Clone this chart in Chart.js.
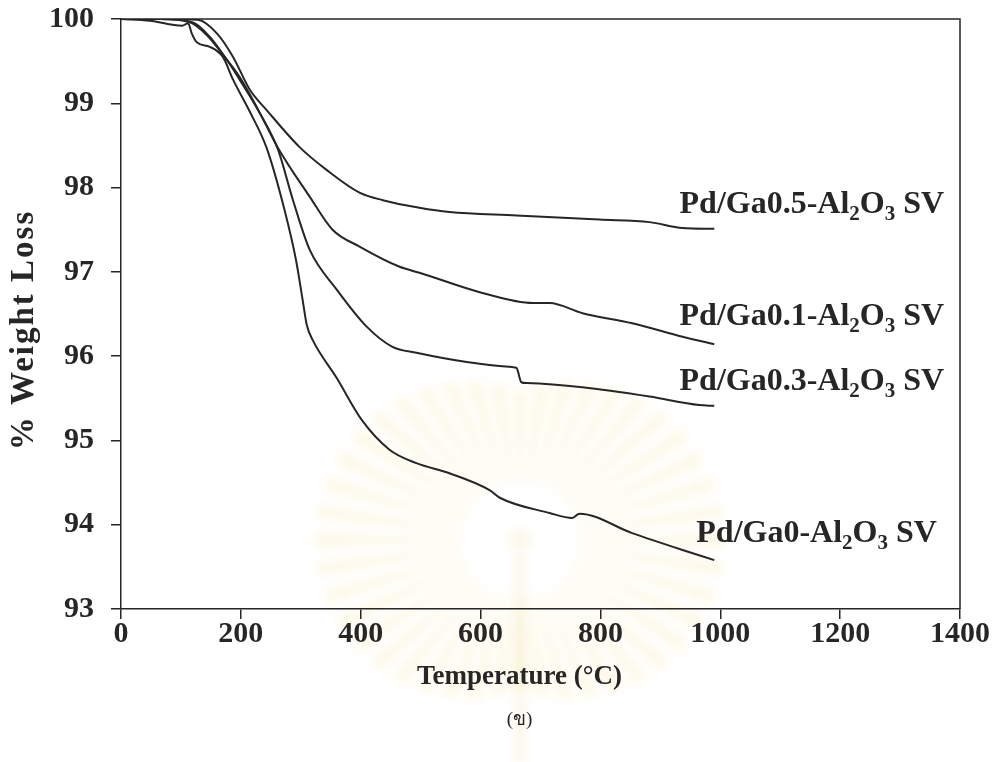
<!DOCTYPE html>
<html>
<head>
<meta charset="utf-8">
<title>TGA</title>
<script src="https://cdn.jsdelivr.net/npm/chart.js@4.4.1/dist/chart.umd.min.js"></script>
<style>
  html, body { margin: 0; padding: 0; background: #fff; }
  #wrap { width: 995px; height: 762px; position: relative; }
</style>
</head>
<body>
<div id="wrap"><canvas id="tga-chart"></canvas></div>
<script>
// Courbes ATG : température (°C) et masse restante (%)
const ga05Temp   = [0, 65, 128, 160, 187, 215, 243, 298, 343, 398, 437, 498, 548, 660, 798, 882, 937, 990];
const ga05Weight = [100, 100, 99.99, 99.83, 99.55, 99.16, 98.92, 98.48, 98.21, 97.94, 97.85, 97.76, 97.71, 97.67, 97.62, 97.59, 97.52, 97.51];

const ga01Temp   = [0, 65, 120, 148, 177, 198, 232, 262, 315, 353, 398, 465, 498, 603, 687, 715, 770, 853, 937, 990];
const ga01Weight = [100, 100, 99.96, 99.79, 99.51, 99.28, 98.88, 98.47, 97.89, 97.50, 97.30, 97.06, 96.99, 96.75, 96.63, 96.63, 96.51, 96.39, 96.23, 96.14];

const ga03Temp   = [0, 65, 115, 143, 173, 198, 232, 262, 287, 315, 360, 410, 453, 493, 577, 653, 660, 668, 677, 770, 882, 965, 990];
const ga03Weight = [100, 100, 99.96, 99.81, 99.55, 99.31, 98.88, 98.45, 97.85, 97.26, 96.79, 96.35, 96.11, 96.04, 95.93, 95.87, 95.86, 95.69, 95.68, 95.63, 95.52, 95.42, 95.41];

const ga0Temp   = [0, 48, 102, 112, 118, 127, 148, 170, 187, 215, 243, 273, 292, 303, 310, 320, 360, 402, 448, 493, 548, 615, 632, 715, 753, 765, 853, 937, 990];
const ga0Weight = [100, 99.98, 99.92, 99.95, 99.83, 99.72, 99.67, 99.55, 99.28, 98.90, 98.47, 97.73, 97.14, 96.67, 96.37, 96.19, 95.74, 95.24, 94.89, 94.73, 94.61, 94.41, 94.32, 94.14, 94.08, 94.13, 93.90, 93.70, 93.58];

// Noms des échantillons ("_" = indice)
const seriesNames = ['Pd/Ga0.5-Al_2O_3 SV', 'Pd/Ga0.1-Al_2O_3 SV', 'Pd/Ga0.3-Al_2O_3 SV', 'Pd/Ga0-Al_2O_3 SV'];

const xTickValues = [0, 200, 400, 600, 800, 1000, 1200, 1400];
const yTickValues = [93, 94, 95, 96, 97, 98, 99, 100];

const xTitle = 'Temperature (°C)';
const yTitle = '% Weight Loss';
const caption = '(ข)';

const INK = '#262626';
const SERIF = "'Liberation Serif', 'Times New Roman', serif";

function toPoints(temps, weights) {
  return temps.map((t, i) => ({ x: t, y: weights[i] }));
}

// Étiquettes placées au bout de chaque courbe (coordonnées en données)
const labelAnchors = [
  { t: 932, w: 97.70 },
  { t: 932, w: 96.37 },
  { t: 932, w: 95.60 },
  { t: 960, w: 93.80 }
];

// Filigrane pâle (soleil rayonnant) sous le graphique
const watermark = {
  id: 'watermark',
  beforeDraw(chart) {
    const { ctx } = chart;
    const cx = 520, cy = 540, rays = 44;
    ctx.save();
    ctx.filter = 'blur(4px)';
    ctx.fillStyle = 'rgba(246, 230, 170, 0.22)';
    for (let i = 0; i < rays; i++) {
      const ang = (i / rays) * Math.PI * 2;
      const c = Math.cos(ang), s = Math.sin(ang);
      const rOut = 150 + 55 * Math.abs(c);
      const r0 = 58;
      const w0 = 2, w1 = 9;
      ctx.beginPath();
      ctx.moveTo(cx + c * r0 - s * w0, cy + s * r0 + c * w0);
      ctx.lineTo(cx + c * rOut - s * w1, cy + s * rOut + c * w1);
      ctx.lineTo(cx + c * rOut + s * w1, cy + s * rOut - c * w1);
      ctx.lineTo(cx + c * r0 + s * w0, cy + s * r0 - c * w0);
      ctx.closePath();
      ctx.fill();
    }
    ctx.fillStyle = 'rgba(240, 222, 170, 0.22)';
    ctx.beginPath();
    ctx.arc(cx, cy, 12, 0, Math.PI * 2);
    ctx.fill();
    ctx.fillRect(cx - 7, cy + 14, 14, 762 - cy - 14);
    ctx.restore();
  }
};

const curveLabels = {
  id: 'curveLabels',
  afterDatasetsDraw(chart) {
    const { ctx, scales: { x, y } } = chart;
    ctx.save();
    ctx.fillStyle = INK;
    ctx.textBaseline = 'alphabetic';
    ctx.textAlign = 'left';
    seriesNames.forEach((name, i) => {
      let px = x.getPixelForValue(labelAnchors[i].t);
      const py = y.getPixelForValue(labelAnchors[i].w);
      name.split(/(_\d)/).forEach(part => {
        if (!part) return;
        if (part.startsWith('_')) {
          ctx.font = `bold 21px ${SERIF}`;
          ctx.fillText(part.slice(1), px, py + 7);
          px += ctx.measureText(part.slice(1)).width;
        } else {
          ctx.font = `bold 32px ${SERIF}`;
          ctx.fillText(part, px, py);
          px += ctx.measureText(part).width;
        }
      });
    });
    ctx.restore();
  }
};

// Cadre haut/droit, titres des axes et repère de figure
const frameAndTitles = {
  id: 'frameAndTitles',
  afterDraw(chart) {
    const { ctx, chartArea: a } = chart;
    const midX = (a.left + a.right) / 2 - 21;
    ctx.save();
    ctx.strokeStyle = INK;
    ctx.lineWidth = 1.5;
    ctx.beginPath();
    ctx.moveTo(a.left, a.top);
    ctx.lineTo(a.right, a.top);
    ctx.lineTo(a.right, a.bottom);
    ctx.stroke();

    ctx.fillStyle = INK;
    ctx.textAlign = 'center';
    ctx.textBaseline = 'middle';

    ctx.font = `bold 27px ${SERIF}`;
    ctx.fillText(xTitle, midX, a.bottom + 68);

    ctx.font = `19px ${SERIF}`;
    ctx.fillText(caption, midX, a.bottom + 111);

    ctx.translate(24, (a.top + a.bottom) / 2 + 16);
    ctx.rotate(-Math.PI / 2);
    ctx.font = `bold 33px ${SERIF}`;
    ctx.letterSpacing = '2px';
    ctx.fillText(yTitle, 0, 0);
    ctx.restore();
  }
};

const lineStyle = {
  borderColor: INK,
  borderWidth: 2,
  pointRadius: 0,
  fill: false,
  cubicInterpolationMode: 'monotone'
};

new Chart(document.getElementById('tga-chart'), {
  type: 'line',
  data: {
    datasets: [
      { label: seriesNames[0], data: toPoints(ga05Temp, ga05Weight), ...lineStyle },
      { label: seriesNames[1], data: toPoints(ga01Temp, ga01Weight), ...lineStyle },
      { label: seriesNames[2], data: toPoints(ga03Temp, ga03Weight), ...lineStyle },
      { label: seriesNames[3], data: toPoints(ga0Temp, ga0Weight), ...lineStyle }
    ]
  },
  options: {
    responsive: true,
    maintainAspectRatio: false,
    animation: false,
    // zone de tracé : 121..960 en x, 19..609 en y
    layout: { padding: { top: 19, right: 35, left: 0, bottom: 0 } },
    plugins: {
      legend: { display: false },
      tooltip: { enabled: false }
    },
    scales: {
      x: {
        type: 'linear',
        min: 0,
        max: 1400,
        afterBuildTicks: axis => { axis.ticks = xTickValues.map(v => ({ value: v })); },
        afterFit: axis => {
          axis.height = 153;
          axis.paddingLeft = 0;
          axis.paddingRight = 0;
        },
        grid: { drawOnChartArea: false, tickLength: 10, color: INK, lineWidth: 1.5 },
        border: { color: INK, width: 1.5 },
        ticks: {
          color: INK,
          padding: -3,
          maxRotation: 0,
          callback: v => String(v),
          font: { family: SERIF, size: 30, weight: 'bold' }
        }
      },
      y: {
        min: 93,
        max: 100,
        afterBuildTicks: axis => { axis.ticks = yTickValues.map(v => ({ value: v })); },
        afterFit: axis => {
          axis.width = 121;
          axis.paddingTop = 0;
          axis.paddingBottom = 0;
        },
        grid: { drawOnChartArea: false, tickLength: 10, color: INK, lineWidth: 1.5 },
        border: { color: INK, width: 1.5 },
        ticks: {
          color: INK,
          padding: 17,
          callback: v => String(v),
          font: { family: SERIF, size: 30, weight: 'bold' }
        }
      }
    }
  },
  plugins: [watermark, curveLabels, frameAndTitles]
});
</script>
</body>
</html>
